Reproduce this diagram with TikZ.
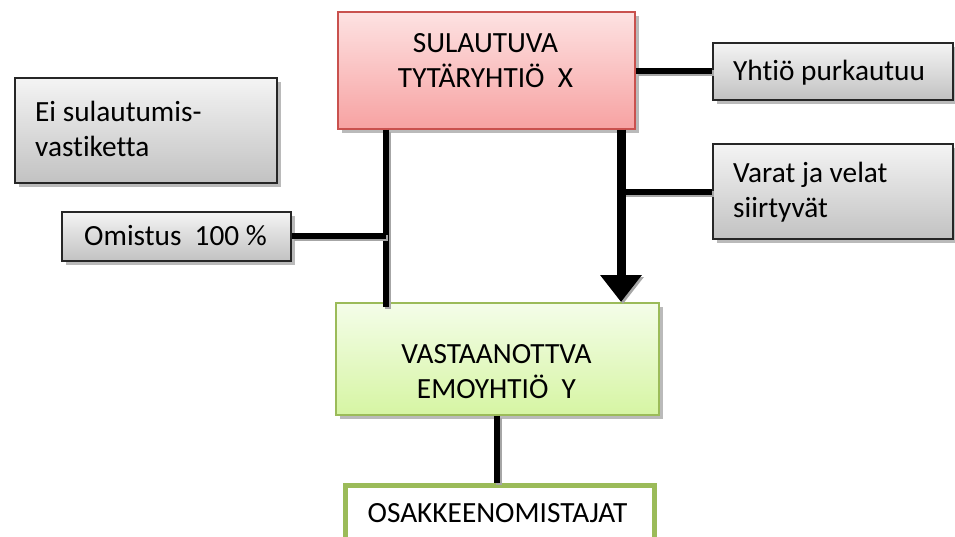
\documentclass[tikz,border=0pt]{standalone}
\usepackage{fontspec}
\setmainfont[Ligatures=NoCommon]{Carlito}
\usetikzlibrary{shadows,arrows.meta}

\definecolor{grayTop}{HTML}{F4F4F4}
\definecolor{grayBot}{HTML}{C2C2C2}
\definecolor{redTop}{HTML}{FDE2E2}
\definecolor{redBot}{HTML}{F7A2A2}
\definecolor{redEdge}{HTML}{C9514E}
\definecolor{grnTop}{HTML}{F4FDE9}
\definecolor{grnBot}{HTML}{D6F5A3}
\definecolor{grnEdge}{HTML}{9BBB59}

\tikzset{
  boxshadow/.style={drop shadow={shadow xshift=4pt, shadow yshift=-4pt, fill=black!45, opacity=0.6}},
  graybox/.style={rectangle, anchor=north west, inner sep=0pt, draw=black!85, line width=1.6pt,
    top color=grayTop, bottom color=grayBot, boxshadow},
  redbox/.style={rectangle, anchor=north west, inner sep=0pt, draw=redEdge, line width=1.6pt,
    top color=redTop, bottom color=redBot, boxshadow},
  grnbox/.style={rectangle, anchor=north west, inner sep=0pt, draw=grnEdge, line width=1.6pt,
    top color=grnTop, bottom color=grnBot, boxshadow},
  ownerbox/.style={rectangle, anchor=north west, inner sep=0pt, draw=grnEdge, line width=4.5pt, fill=white},
  txt/.style={inner sep=0pt, font=\fontsize{29.3}{35}\selectfont},
  conn/.style={line width=6pt, black,
    preaction={draw=black!35, line width=6pt, transform canvas={shift={(2pt,-2pt)}}}},
  bigarrow/.style={line width=9pt, black, -{Triangle[width=40pt,length=27pt]},
    preaction={draw=black!35, transform canvas={shift={(2pt,-2pt)}}}}
}

\begin{document}
\begin{tikzpicture}[x=1pt,y=-1pt]
  \useasboundingbox (0,0) rectangle (955,536);

  % boxes
  \node[redbox,  minimum width=297pt, minimum height=117pt] (red) at (337,11) {};
  \node[graybox, minimum width=240pt, minimum height=57pt]  (yh)  at (712,42) {};
  \node[graybox, minimum width=262pt, minimum height=105pt] (ei)  at (14,77) {};
  \node[graybox, minimum width=240pt, minimum height=95pt]  (va)  at (712,143) {};
  \node[graybox, minimum width=229pt, minimum height=49pt]  (om)  at (61,211) {};
  \node[grnbox,  minimum width=323pt, minimum height=112pt] (grn) at (335,302) {};
  \node[ownerbox, minimum width=309pt, minimum height=70pt] (own) at (343,483) {};

  % texts
  \node[txt, align=center] (redtxt) at (485.5,61) {SULAUTUVA\\TYTÄRYHTIÖ~~X};
  \node[txt, anchor=west] (yhtxt) at (733,73) {Yhtiö purkautuu};
  \node[txt, anchor=west, align=left] (eitxt) at (35,128.5) {Ei sulautumis-\\vastiketta};
  \node[txt, anchor=west, align=left] (vatxt) at (733,192.5) {Varat ja velat\\siirtyvät};
  \node[txt, anchor=west] (omtxt) at (84,236) {Omistus~~100~\%};
  \node[txt, align=center] (grntxt) at (496.5,371.5) {VASTAANOTTVA\\EMOYHTIÖ~~Y};
  \node[txt] (owntxt) at (497.5,513) {OSAKKEENOMISTAJAT};

  % junction points on the two vertical lines
  \coordinate (jL) at (386,236);
  \coordinate (jR) at (621,192);

  % connectors
  \draw[conn] (red.east |- yh.west) -- (yh.west);
  \draw[conn] (red.south -| jL) -- ([yshift=-5pt]grn.north -| jL);
  \draw[conn] (om.east |- jL) -- (jL);
  \draw[conn] (jR) -- (va.west |- jR);
  \draw[bigarrow] (red.south -| jR) -- (grn.north -| jR);
  \draw[conn] (grn.south) -- (grn.south |- own.north);
\end{tikzpicture}
\end{document}
